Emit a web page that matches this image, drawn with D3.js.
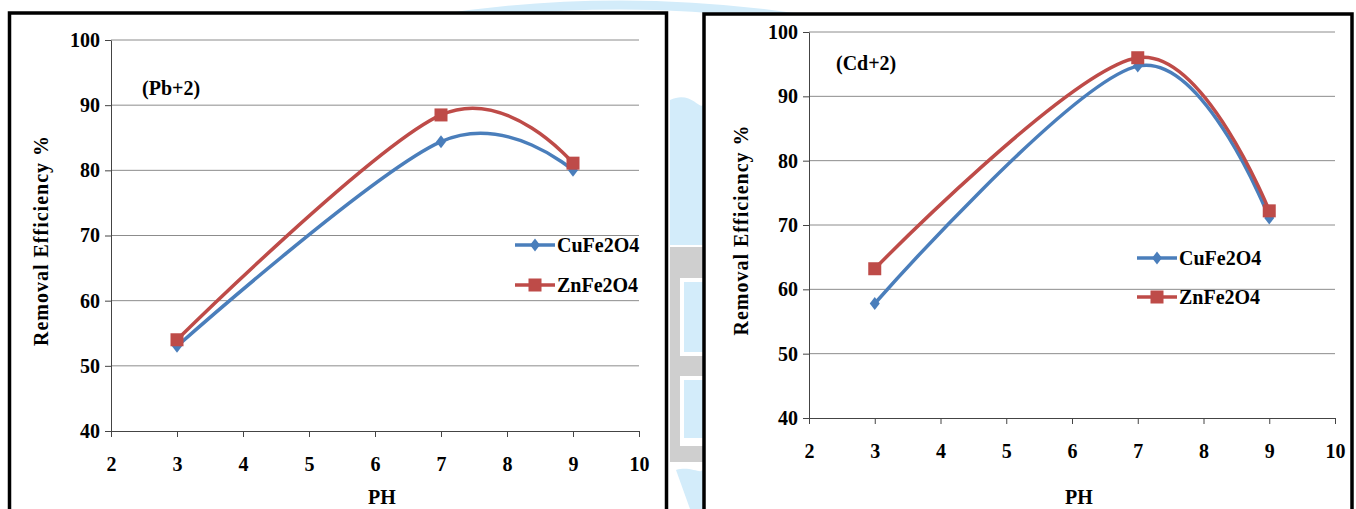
<!DOCTYPE html>
<html>
<head>
<meta charset="utf-8">
<script src="https://cdn.jsdelivr.net/npm/d3@7"></script>
<style>
  html, body { margin: 0; padding: 0; background: #fff; }
  svg { display: block; }
</style>
</head>
<body>
<svg id="chart" width="1356" height="509"></svg>
<script>
// pH values tested and removal efficiency (%) for each adsorbent
const phValues = [3, 7, 9];
const seriesNames = ["CuFe2O4", "ZnFe2O4"];
const pbCuFe2O4 = [53.0, 84.4, 80.0];
const pbZnFe2O4 = [54.0, 88.5, 81.1];
const cdCuFe2O4 = [57.8, 94.7, 71.1];
const cdZnFe2O4 = [63.2, 96.0, 72.2];
const xTickValues = [2, 3, 4, 5, 6, 7, 8, 9, 10];
const yTickValues = [40, 50, 60, 70, 80, 90, 100];
const panelTitles = ["(Pb+2)", "(Cd+2)"];
const xTitle = "PH";
const yTitle = "Removal Efficiency %";

const FONT = "Liberation Serif";
const colors = { CuFe2O4: "#4A7EBB", ZnFe2O4: "#BE4B48" };
const svg = d3.select("#chart");

// faint logo watermark behind the two charts
const wm = svg.append("g");
wm.append("path")
  .attr("d", "M 330 40 Q 620 -30 910 40")
  .attr("fill", "none").attr("stroke", "#d3ecfa").attr("stroke-width", 9);
wm.append("path")
  .attr("d", "M 670 100 C 690 90 700 110 703 105 L 703 245 L 670 245 Z")
  .attr("fill", "#d3ecfa");
wm.append("rect").attr("x", 670).attr("y", 247).attr("width", 33).attr("height", 215).attr("fill", "#cfcfcf");
wm.append("rect").attr("x", 680).attr("y", 278).attr("width", 23).attr("height", 78).attr("fill", "#ffffff");
wm.append("rect").attr("x", 684).attr("y", 282).attr("width", 19).attr("height", 70).attr("fill", "#d3ecfa");
wm.append("rect").attr("x", 680).attr("y", 376).attr("width", 23).attr("height", 70).attr("fill", "#ffffff");
wm.append("rect").attr("x", 684).attr("y", 380).attr("width", 19).attr("height", 58).attr("fill", "#d3ecfa");
wm.append("path")
  .attr("d", "M 676 470 C 690 466 700 474 703 470 L 703 509 L 690 509 Z")
  .attr("fill", "#d3ecfa");

function styleText(sel, size) {
  sel.attr("font-family", FONT).attr("font-weight", "bold")
    .attr("font-size", size).attr("fill", "#000");
}

function drawPanel(cfg) {
  const g = svg.append("g");

  // framed chart area
  g.append("rect")
    .attr("x", cfg.frame[0]).attr("y", cfg.frame[1])
    .attr("width", cfg.frame[2]).attr("height", cfg.frame[3])
    .attr("fill", "#fff").attr("stroke", "#000").attr("stroke-width", 3.5);

  const x = d3.scaleLinear().domain([2, 10]).range([cfg.left, cfg.right]);
  const y = d3.scaleLinear().domain([40, 100]).range([cfg.bottom, cfg.top]);

  // horizontal gridlines
  g.append("g").selectAll("line")
    .data(yTickValues.filter(v => v > 40))
    .join("line")
    .attr("x1", cfg.left).attr("x2", cfg.right)
    .attr("y1", d => y(d)).attr("y2", d => y(d))
    .attr("stroke", "#8c8c8c").attr("stroke-width", 1);

  // y axis
  const yAxis = g.append("g")
    .attr("transform", `translate(${cfg.left},0)`)
    .call(d3.axisLeft(y).tickValues(yTickValues).tickSize(6).tickPadding(5).tickSizeOuter(0));
  yAxis.attr("font-family", FONT);
  yAxis.select(".domain").attr("stroke", "#444");
  yAxis.selectAll(".tick line").attr("stroke", "#444");
  styleText(yAxis.selectAll("text"), 20);

  // x axis
  const xAxis = g.append("g")
    .attr("transform", `translate(0,${cfg.bottom})`)
    .call(d3.axisBottom(x).tickValues(xTickValues).tickSize(6).tickPadding(20).tickSizeOuter(0));
  xAxis.attr("font-family", FONT);
  xAxis.select(".domain").attr("stroke", "#444");
  xAxis.selectAll(".tick line").attr("stroke", "#444");
  styleText(xAxis.selectAll("text"), 20);

  // axis titles
  styleText(g.append("text")
    .attr("x", (cfg.left + cfg.right) / 2 + 7).attr("y", cfg.xTitleY)
    .attr("text-anchor", "middle").text(xTitle), 20);
  styleText(g.append("text")
    .attr("transform", `translate(${cfg.yTitleX},${(cfg.top + cfg.bottom) / 2 + 5}) rotate(-90)`)
    .attr("text-anchor", "middle").attr("letter-spacing", 1).text(yTitle), 20);

  // panel label
  styleText(g.append("text")
    .attr("x", cfg.labelPos[0]).attr("y", cfg.labelPos[1])
    .text(cfg.title), 20);

  const line = d3.line()
    .x(d => x(d[0])).y(d => y(d[1]))
    .curve(d3.curveCardinal.tension(0));

  const diamond = "M0,-6.5L5,0L0,6.5L-5,0Z";
  const series = [
    { name: seriesNames[0], values: cfg.cu },
    { name: seriesNames[1], values: cfg.zn }
  ];

  series.forEach(s => {
    const pts = phValues.map((p, i) => [p, s.values[i]]);
    g.append("path")
      .attr("d", line(pts))
      .attr("fill", "none").attr("stroke", colors[s.name])
      .attr("stroke-width", 3.5).attr("stroke-linecap", "round");
    const marks = g.append("g").selectAll("g").data(pts).join("g")
      .attr("transform", d => `translate(${x(d[0])},${y(d[1])})`);
    if (s.name === "CuFe2O4") {
      marks.append("path").attr("d", diamond).attr("fill", colors[s.name]);
    } else {
      marks.append("rect").attr("x", -6.5).attr("y", -6.5)
        .attr("width", 13).attr("height", 13).attr("fill", colors[s.name]);
    }
  });

  // legend
  series.forEach((s, i) => {
    const ly = cfg.legend[1] + i * cfg.legendGap;
    const lx = cfg.legend[0];
    g.append("line")
      .attr("x1", lx).attr("x2", lx + 40).attr("y1", ly).attr("y2", ly)
      .attr("stroke", colors[s.name]).attr("stroke-width", 3.5);
    if (s.name === "CuFe2O4") {
      g.append("path").attr("d", diamond)
        .attr("transform", `translate(${lx + 20},${ly})`).attr("fill", colors[s.name]);
    } else {
      g.append("rect").attr("x", lx + 13.5).attr("y", ly - 6.5)
        .attr("width", 13).attr("height", 13).attr("fill", colors[s.name]);
    }
    styleText(g.append("text")
      .attr("x", lx + 42).attr("y", ly + 7)
      .text(s.name), 20);
  });
}

drawPanel({
  title: panelTitles[0],
  cu: pbCuFe2O4, zn: pbZnFe2O4,
  frame: [9.5, 13, 657, 510],
  left: 111, right: 639, top: 40, bottom: 431,
  xTitleY: 504, yTitleX: 48,
  labelPos: [142, 95],
  legend: [515, 245], legendGap: 40
});

drawPanel({
  title: panelTitles[1],
  cu: cdCuFe2O4, zn: cdZnFe2O4,
  frame: [704, 14, 648, 510],
  left: 809, right: 1335, top: 32, bottom: 418,
  xTitleY: 504, yTitleX: 748,
  labelPos: [836, 70],
  legend: [1137, 258], legendGap: 39
});
</script>
</body>
</html>
